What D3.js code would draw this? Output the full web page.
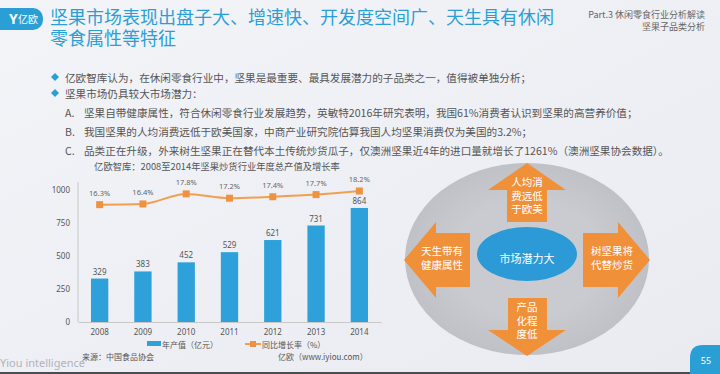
<!DOCTYPE html>
<html><head><meta charset="utf-8">
<script src="https://cdn.jsdelivr.net/npm/d3@7/dist/d3.min.js"></script>
<style>
html,body{margin:0;padding:0;overflow:hidden;}
svg{display:block;font-family:"Noto Sans CJK SC","Noto Sans",sans-serif;}
</style></head>
<body>
<svg id="c" width="720" height="374"></svg>
<script>
const years = ["2008","2009","2010","2011","2012","2013","2014"];
const output = [329, 383, 452, 529, 621, 731, 864];
const growth = [16.3, 16.4, 17.8, 17.2, 17.4, 17.7, 18.2];
const yTicks = [0, 250, 500, 750, 1000];
const titleLines = ["坚果市场表现出盘子大、增速快、开发度空间广、天生具有休闲", "零食属性等特征"];
const partLines = ["Part.3 休闲零食行业分析解读", "坚果子品类分析"];
const bullets = ["亿欧智库认为，在休闲零食行业中，坚果是最重要、最具发展潜力的子品类之一，值得被单独分析；", "坚果市场仍具较大市场潜力："];
const subLabels = ["A.", "B.", "C."];
const subItems = ["坚果自带健康属性，符合休闲零食行业发展趋势，英敏特2016年研究表明，我国61%消费者认识到坚果的高营养价值；",
  "我国坚果的人均消费远低于欧美国家，中商产业研究院估算我国人均坚果消费仅为美国的3.2%；",
  "品类正在升级，外来树生坚果正在替代本土传统炒货瓜子，仅澳洲坚果近4年的进口量就增长了1261%（澳洲坚果协会数据）。"];
const chartTitle = "亿欧智库：2008至2014年坚果炒货行业年度总产值及增长率";
const legendNames = ["年产值（亿元）", "同比增长率（%）"];
const sourceText = "来源：中国食品协会";
const creditText = "亿欧（www.iyiou.com）";
const diagramCenter = "市场潜力大";
const arrowTexts = {up:["人均消","费远低","于欧美"], left:["天生带有","健康属性"], right:["树坚果将","代替炒货"], down:["产品","化程","度低"]};

const svg = d3.select("#c");
const defs = svg.append("defs");
const bg = defs.append("linearGradient").attr("id","bg").attr("x1",0).attr("y1",0).attr("x2",1).attr("y2",1);
bg.append("stop").attr("offset","0%").attr("stop-color","#f3f4f8");
bg.append("stop").attr("offset","100%").attr("stop-color","#e9ebf1");
svg.append("rect").attr("width",720).attr("height",374).attr("fill","url(#bg)");

// logo
svg.append("rect").attr("x",-10).attr("y",8).attr("width",53).attr("height",22).attr("rx",10).attr("fill","#2a9fd6");
svg.append("text").attr("x",9).attr("y",24).attr("fill","#fff").attr("font-size",14).attr("font-weight","bold").attr("font-family","Noto Sans").text("Y");
svg.append("text").attr("x",18).attr("y",23).attr("fill","#fff").attr("font-size",10).text("亿欧");

// title (one text, two lines)
const tt = svg.append("text").attr("x",50).attr("y",24).attr("fill","#2b9fd5").attr("font-size",18);
tt.selectAll("tspan").data(titleLines).join("tspan").attr("x",50).attr("dy",(d,i)=>i===0?0:21).text(d=>d);
const pt = svg.append("text").attr("x",705).attr("y",18).attr("text-anchor","end").attr("fill","#666").attr("font-size",9);
pt.selectAll("tspan").data(partLines).join("tspan").attr("x",705).attr("dy",(d,i)=>i===0?0:12).text(d=>d);

// bullets
const fs = 10.6;
const bY = [77, 93];
bullets.forEach((t,i)=>{
  svg.append("path").attr("d",`M55,${bY[i]-4}L59,${bY[i]}L55,${bY[i]+4}L51,${bY[i]}Z`).attr("fill","#2a9fd6");
  svg.append("text").attr("x",65).attr("y",bY[i]).attr("dominant-baseline","central").attr("fill","#555").attr("font-size",fs).text(t);
});
const sY = [112, 131, 150];
subItems.forEach((t,i)=>{
  svg.append("text").attr("x",65).attr("y",sY[i]).attr("dominant-baseline","central").attr("fill","#555").attr("font-size",fs).text(subLabels[i]);
  svg.append("text").attr("x",84).attr("y",sY[i]).attr("dominant-baseline","central").attr("fill","#555").attr("font-size",fs).text(t);
});

// chart
const x = d3.scaleBand().domain(years).range([78, 381]).paddingInner(0.6).paddingOuter(0.3);
const y = d3.scaleLinear().domain([0, 1000]).range([322, 190]);
const yp = d3.scaleLinear().domain([0, 18.2]).range([322, 191]);

svg.append("text").attr("x",217).attr("y",170).attr("text-anchor","middle").attr("fill","#555").attr("font-size",9.3).text(chartTitle);

const yAx = svg.append("g").attr("transform","translate(78,0)").call(d3.axisLeft(y).tickValues(yTicks).tickFormat(d3.format("d")).tickSize(0).tickPadding(8));
yAx.select(".domain").attr("stroke","#c8c8c8").attr("d","M0,322V182");
yAx.selectAll("text").attr("fill","#555").attr("font-size",8).attr("font-family","Noto Sans");

const xAx = svg.append("g").attr("transform","translate(0,322)").call(d3.axisBottom(x).tickSize(0).tickPadding(7));
xAx.select(".domain").attr("stroke","#c8c8c8");
xAx.selectAll("text").attr("fill","#555").attr("font-size",8).attr("font-family","Noto Sans");

svg.selectAll(".bar").data(output).join("rect")
  .attr("x",(d,i)=>x(years[i])).attr("y",d=>y(d)).attr("width",x.bandwidth()).attr("height",d=>322-y(d)).attr("fill","#2ea0da");
svg.selectAll(".bl").data(output).join("text")
  .attr("x",(d,i)=>x(years[i])+x.bandwidth()/2).attr("y",d=>y(d)-4).attr("text-anchor","middle")
  .attr("fill","#555").attr("font-size",8).attr("font-family","Noto Sans").text(d=>d);

const line = d3.line().x((d,i)=>x(years[i])+x.bandwidth()/2).y(d=>yp(d)).curve(d3.curveMonotoneX);
svg.append("path").datum(growth).attr("d",line).attr("fill","none").attr("stroke","#f0a050").attr("stroke-width",2);
svg.selectAll(".mk").data(growth).join("rect")
  .attr("x",(d,i)=>x(years[i])+x.bandwidth()/2-3.5).attr("y",d=>yp(d)-3.5).attr("width",7).attr("height",7).attr("fill","#ee9242");
svg.selectAll(".gl").data(growth).join("text")
  .attr("x",(d,i)=>x(years[i])+x.bandwidth()/2).attr("y",d=>yp(d)-9).attr("text-anchor","middle")
  .attr("fill","#666").attr("font-size",7.5).attr("font-family","Noto Sans").text(d=>d.toFixed(1)+"%");

// legend
svg.append("rect").attr("x",147).attr("y",341).attr("width",14).attr("height",5).attr("fill","#2ea0da");
svg.append("text").attr("x",162).attr("y",344).attr("dominant-baseline","central").attr("fill","#555").attr("font-size",8).text(legendNames[0]);
svg.append("line").attr("x1",245).attr("x2",261).attr("y1",344).attr("y2",344).attr("stroke","#f0a050").attr("stroke-width",2);
svg.append("rect").attr("x",250).attr("y",341).attr("width",6).attr("height",6).attr("fill","#ee9242");
svg.append("text").attr("x",262).attr("y",344).attr("dominant-baseline","central").attr("fill","#555").attr("font-size",8).text(legendNames[1]);

svg.append("text").attr("x",82).attr("y",356).attr("dominant-baseline","central").attr("fill","#555").attr("font-size",8).text(sourceText);
svg.append("text").attr("x",278).attr("y",356).attr("dominant-baseline","central").attr("fill","#555").attr("font-size",8).text(creditText);

// footer
svg.append("text").attr("x",0).attr("y",367).attr("fill","#b0b3ba").attr("font-size",11).attr("font-family","Noto Sans").text("Yiou intelligence");
svg.append("rect").attr("x",0).attr("y",372).attr("width",720).attr("height",2).attr("fill","#4a4c52");
svg.append("path").attr("d","M690,374V358Q690,345 703,345H720V374Z").attr("fill","#2a9fd6");
svg.append("text").attr("x",706).attr("y",360).attr("text-anchor","middle").attr("dominant-baseline","central").attr("fill","#fff").attr("font-size",9).attr("font-family","Noto Sans").text("55");

// diagram
const eg = defs.append("radialGradient").attr("id","eg");
eg.append("stop").attr("offset","60%").attr("stop-color","#c9cbd1");
eg.append("stop").attr("offset","100%").attr("stop-color","#bfc1c7");
svg.append("ellipse").attr("cx",527).attr("cy",259).attr("rx",122).attr("ry",96).attr("fill","url(#eg)");
svg.append("ellipse").attr("cx",527).attr("cy",254).attr("rx",50).attr("ry",27).attr("fill","#2c9ad6");
svg.append("text").attr("x",527).attr("y",258).attr("text-anchor","middle").attr("dominant-baseline","central").attr("fill","#fff").attr("font-size",11).text(diagramCenter);

const orange = "#f0913a";
const arrows = [
  {k:"up", pts:[[507,222],[507,190],[488,190],[527,163],[566,190],[547,190],[547,222]], cx:527, y0:186},
  {k:"down", pts:[[508,298],[547,298],[547,330],[566,330],[527,356],[488,330],[508,330]], cx:527, y0:311},
  {k:"left", pts:[[470,233],[436,233],[436,222],[404,260],[436,298],[436,287],[470,287]], cx:442, y0:255},
  {k:"right", pts:[[583,233],[618,233],[618,222],[650,260],[618,298],[618,287],[583,287]], cx:612, y0:255}
];
arrows.forEach(a=>{
  svg.append("polygon").attr("points",a.pts.map(p=>p.join(",")).join(" ")).attr("fill",orange);
  const t = svg.append("text").attr("x",a.cx).attr("y",a.y0).attr("text-anchor","middle")
    .attr("fill","#fff").attr("font-size",10.5);
  t.selectAll("tspan").data(arrowTexts[a.k]).join("tspan").attr("x",a.cx).attr("dy",(d,i)=>i===0?0:13.5).text(d=>d);
});
</script>
</body></html>
